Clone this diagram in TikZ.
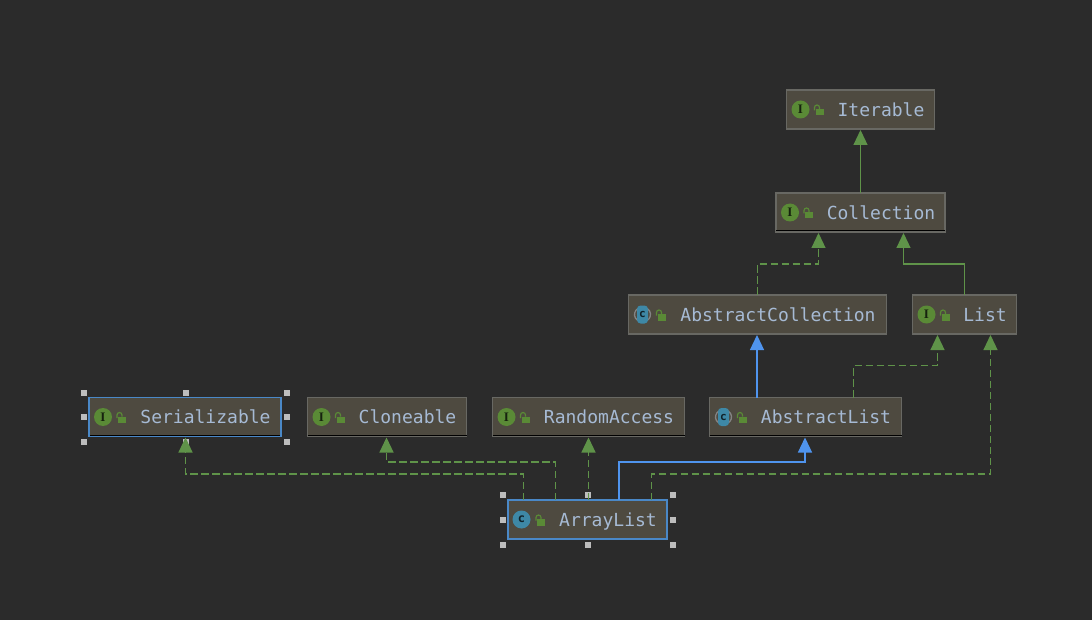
\documentclass[tikz,border=0pt]{standalone}
\usepackage{fontspec}
\setmainfont{DejaVu Sans Mono}
\newfontfamily\iconserif{Liberation Serif}
\usetikzlibrary{arrows.meta}
\definecolor{bgc}{HTML}{2B2B2B}
\definecolor{boxc}{HTML}{4E4A40}
\definecolor{edgec}{HTML}{686863}
\definecolor{textc}{HTML}{A6BAD4}
\definecolor{greenc}{HTML}{5F9349}
\definecolor{bluec}{HTML}{4F94EE}
\definecolor{selc}{HTML}{4A88C7}
\definecolor{iconc}{HTML}{5A8A36}
\definecolor{tealc}{HTML}{3E88A6}
\definecolor{handc}{HTML}{BDBDBD}
\tikzset{
  umlbox/.style={draw=edgec,fill=boxc,line width=1.2pt,rectangle,inner sep=0pt,outer sep=0pt,
    minimum height=39pt,text=textc,font=\fontsize{18}{20}\selectfont,text height=13.5pt,text depth=0pt},
  selbox/.style={umlbox,draw=selc,line width=1.25pt},
  gtip/.style={-{Triangle[width=14pt,length=15pt,fill=greenc,color=greenc]}},
  btip/.style={-{Triangle[width=14pt,length=15pt,fill=bluec,color=bluec]}},
  impl/.style={gtip,draw=greenc,line width=1.15pt,dash pattern=on 7.5pt off 3.5pt},
  ext/.style={gtip,draw=greenc,line width=1.15pt},
  extb/.style={btip,draw=bluec,line width=1.25pt},
  handle/.style={fill=handc,draw=none,minimum size=6pt,inner sep=0pt,rectangle},
  shade/.style={draw=black,line width=1pt},
  iconI/.style={circle,fill=iconc,minimum size=18pt,inner sep=0pt,text=black!75!iconc,font=\iconserif\bfseries\fontsize{13}{13}\selectfont},
  iconC/.style={circle,fill=tealc,minimum size=18pt,inner sep=0pt,text=black!75!tealc,font=\bfseries\fontsize{12}{12}\selectfont},
  iconA/.style={rounded corners=3.5pt,rectangle,fill=tealc,minimum width=11pt,minimum height=18pt,inner sep=0pt,text=black!75!tealc,font=\bfseries\fontsize{11}{11}\selectfont},
  lockbody/.style={fill=iconc},
  lockbar/.style={draw=iconc,line width=1.2pt}
}
% #1 name, #2 centre, #3 width, #4 text, #5 style
\newcommand{\uml}[5]{\node[#5,minimum width=#3pt] (#1) at #2 {\hspace*{41pt}#4};
  \fill[lockbody] ([shift={(29,-0.5)}]#1.west) rectangle ++(8,6.5);
  \draw[lockbar] ([shift={(28,1)}]#1.west) -- ++(0,-3) arc[start angle=180,end angle=360,radius=2.5] -- ++(0,1.5);
}
\newcommand{\iconI}[1]{\node[iconI] (#1i) at ([xshift=14pt]#1.west) {I};}
\newcommand{\iconC}[1]{\node[iconC] (#1i) at ([xshift=13.5pt]#1.west) {c};}
\newcommand{\iconA}[1]{
  \draw[handc!70!black,line width=1.3pt] ([xshift=9.5pt,yshift=6pt]#1.west) arc[start angle=120,end angle=240,radius=7pt];
  \draw[handc!70!black,line width=1.3pt] ([xshift=18.5pt,yshift=-6pt]#1.west) arc[start angle=-60,end angle=60,radius=7pt];
  \node[iconA] (#1i) at ([xshift=14pt]#1.west) {c};}
\begin{document}
\begin{tikzpicture}[x=1pt,y=-1pt]
\path[fill=bgc,use as bounding box] (0,0) rectangle (1092,620);

\uml{iter}{(860.5,109.5)}{148}{Iterable}{umlbox}\iconI{iter}
\uml{coll}{(860.5,212.5)}{169}{Collection}{umlbox}\iconI{coll}
\uml{acoll}{(757.5,314.5)}{258}{AbstractCollection}{umlbox}\iconA{acoll}
\uml{list}{(964.5,314.5)}{104}{List}{umlbox}\iconI{list}
\uml{ser}{(185,417)}{192}{Serializable}{selbox}\iconI{ser}
\uml{clone}{(387,417)}{159}{Cloneable}{umlbox}\iconI{clone}
\uml{rand}{(588.5,417)}{192}{RandomAccess}{umlbox}\iconI{rand}
\uml{alist}{(805.5,417)}{192}{AbstractList}{umlbox}\iconA{alist}
\uml{arr}{(587.5,519.5)}{159}{ArrayList}{selbox}\iconC{arr}

\draw[shade] ([yshift=1pt]coll.south west) -- ([yshift=1pt]coll.south east);
\draw[shade] ([yshift=1.2pt,xshift=1pt]ser.south west) -- ([yshift=1.2pt,xshift=-1pt]ser.south east);
\draw[shade] ([yshift=1pt]clone.south west) -- ([yshift=1pt]clone.south east);
\draw[shade] ([yshift=1pt]rand.south west) -- ([yshift=1pt]rand.south east);
\draw[shade] ([yshift=1pt]alist.south west) -- ([yshift=1pt]alist.south east);

\foreach \n/\x in {a/84,b/185.5,c/287}
  \foreach \m/\y in {t/392.5,v/442}
    \node[handle] (h\n\m) at (\x,\y) {};
\node[handle] (hau) at (84,417) {};
\node[handle] (hcu) at (287,417) {};
\foreach \n/\x in {d/503,e/588,f/673}
  \foreach \m/\y in {t/495,v/545}
    \node[handle] (h\n\m) at (\x,\y) {};
\node[handle] (hdu) at (503,520) {};
\node[handle] (hfu) at (673,520) {};

\draw[ext] (coll.north) -- ([yshift=-1pt]iter.south);
\draw[impl] (acoll.north) -- ++(0,-31) -| ([xshift=-42pt,yshift=-1pt]coll.south);
\draw[ext] (list.north) -- ++(0,-31) -| ([xshift=43pt,yshift=-1pt]coll.south);
\draw[extb] ([xshift=-0.5pt]acoll.south |- alist.north) -- ([xshift=-0.5pt,yshift=-1pt]acoll.south);
\draw[impl] ([xshift=48pt]alist.north) -- ++(0,-32) -| ([xshift=-27pt,yshift=-1pt]list.south);
\draw[impl] ([xshift=-64pt]arr.north) -- ++(0,-26) -| ([xshift=0.5pt,yshift=-1pt]ser.south);
\draw[impl] ([xshift=-32pt]arr.north) -- ++(0,-38) -| ([xshift=-0.5pt,yshift=-1pt]clone.south);
\draw[impl] (arr.north -| rand.south) -- ([yshift=-1pt]rand.south);
\draw[extb] ([xshift=31.5pt]arr.north) -- ++(0,-38) -| ([xshift=-0.5pt,yshift=-1pt]alist.south);
\draw[impl] ([xshift=64pt]arr.north) -- ++(0,-26) -| ([xshift=26pt,yshift=-1pt]list.south);
\end{tikzpicture}
\end{document}
